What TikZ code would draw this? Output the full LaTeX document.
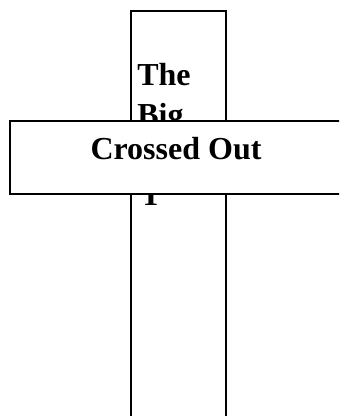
\documentclass[tikz,border=0pt]{standalone}
\usepackage{fontspec}
\setmainfont{Liberation Serif}
\begin{document}
\begin{tikzpicture}[x=0.75pt,y=-0.75pt,
  box/.style={draw=black,line width=1.5pt,fill=white},
  word/.style={inner sep=0pt,font=\fontsize{24}{30}\selectfont\bfseries}]
\useasboundingbox (0,0) rectangle (339,416);
\clip (0,0) rectangle (339,416);
\fill[white] (0,0) rectangle (339,416);
\draw[box] (131,11) rectangle (226,440);
\node[word,anchor=base west] (l1) at (137,86) {The};
\node[word,anchor=base west] (l2) at (137,126) {Big};
\node[word,anchor=base west] (l3) at (137,166) {Cross};
\node[word,anchor=base west] (l4) at (140,205) {T};
\draw[box] (10,121) rectangle (360,194);
\node[word,anchor=base] (cross) at (176,160) {Crossed Out};
\end{tikzpicture}
\end{document}
